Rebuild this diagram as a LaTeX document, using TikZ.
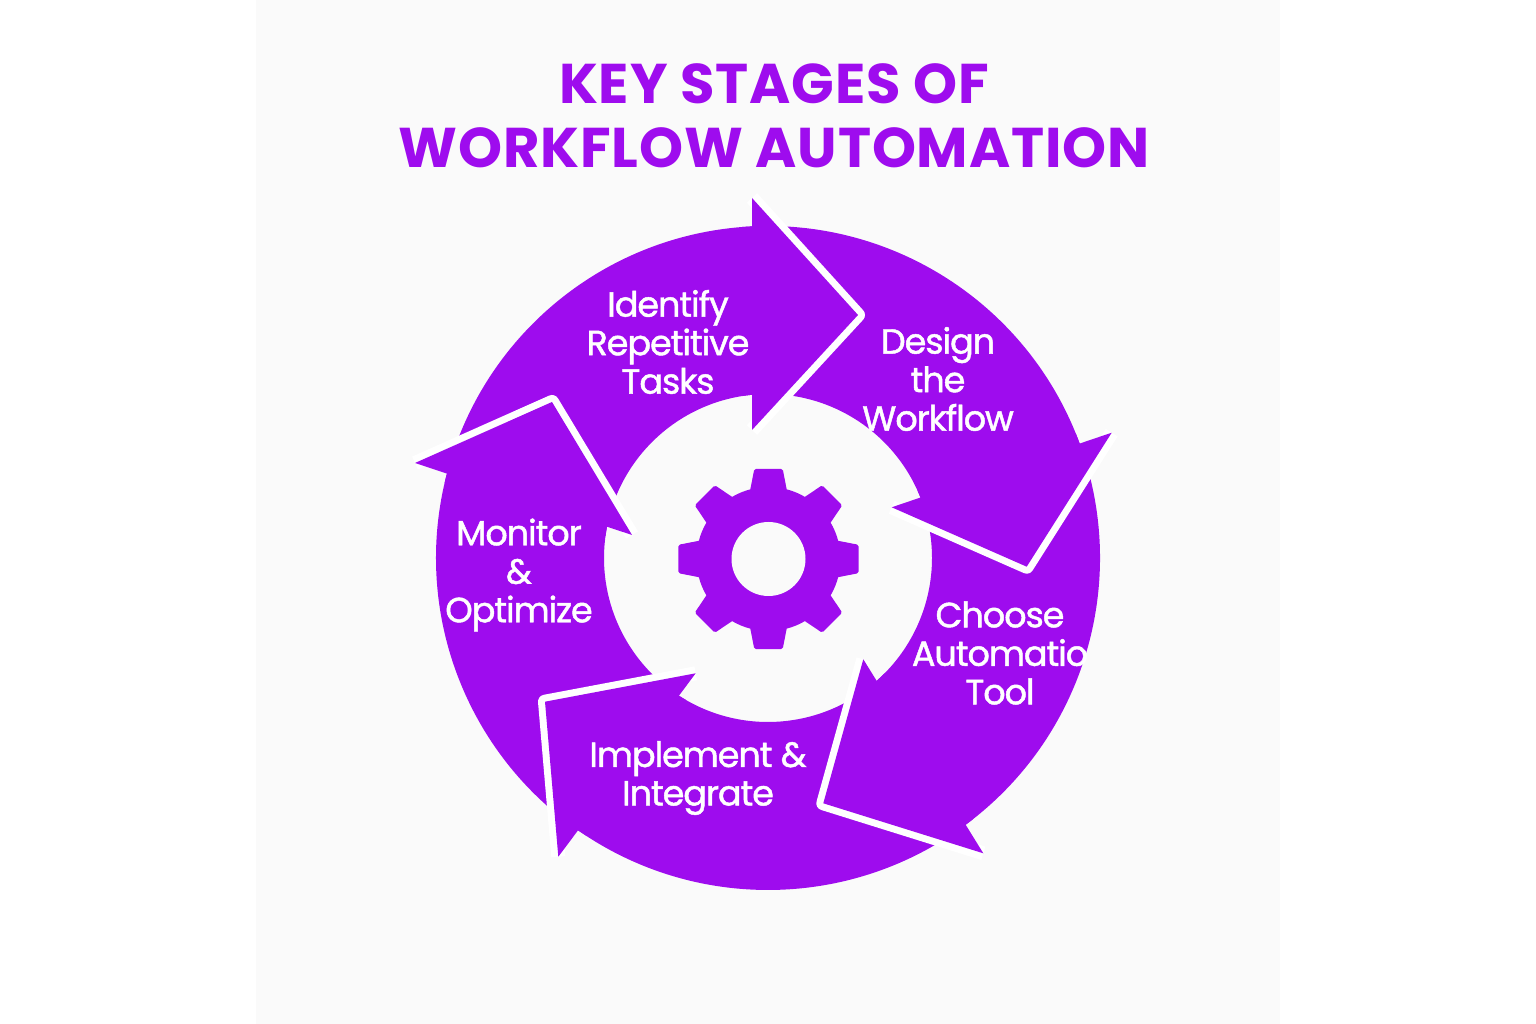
\documentclass[tikz,border=0pt]{standalone}
\usepackage{fontspec}
\setmainfont{Poppins}
\newfontfamily\lblfont{Poppins}[FakeBold=1.3, LetterSpace=-3]
\newfontfamily\ttlfont{Poppins}[LetterSpace=1.5]
\definecolor{vio}{RGB}{158,12,238}
\definecolor{bgpanel}{RGB}{250,250,250}
\tikzset{
  bodyfill/.style={fill=vio},
  headedge/.style={draw=white, line width=14pt, line join=round, line cap=butt},
  headfill/.style={fill=vio},
  lbl/.style={text=white, align=center, font=\lblfont\fontsize{35}{38.5}\selectfont, inner sep=0pt},
  ttl/.style={text=vio, align=center, font=\ttlfont\bfseries\fontsize{56}{64}\selectfont, inner sep=0pt}
}
\begin{document}
\begin{tikzpicture}[x=1pt,y=1pt]
\useasboundingbox (0,0) rectangle (1536,1024);
\fill[white] (0,0) rectangle (1536,1024);
\fill[bgpanel] (256,0) rectangle (1280,1024);

\node[ttl] (title) at (774,908) {KEY STAGES OF\\WORKFLOW AUTOMATION};

\begin{scope}[shift={(768,466)}]
  % arrow bodies (annular sectors)
  \fill[bodyfill] (166.94:332) arc[start angle=166.94, end angle=90.54, radius=332]
     -- (95.13:164) arc[start angle=95.13, end angle=172.4, radius=164] -- cycle;
  \fill[bodyfill] (94.54:332) arc[start angle=94.54, end angle=18.03, radius=332]
     -- (20.29:164) arc[start angle=20.29, end angle=99.13, radius=164] -- cycle;
  \fill[bodyfill] (22.03:332) arc[start angle=22.03, end angle=-55.9, radius=332]
     -- (-48.75:164) arc[start angle=-48.75, end angle=24.29, radius=164] -- cycle;
  \fill[bodyfill] (-51.9:332) arc[start angle=-51.9, end angle=-127.07, radius=332]
     -- (-124.09:164) arc[start angle=-124.09, end angle=-44.75, radius=164] -- cycle;
  \fill[bodyfill] (-123.07:332) arc[start angle=-123.07, end angle=-197.06, radius=332]
     -- (-191.6:164) arc[start angle=-191.6, end angle=-120.09, radius=164] -- cycle;

  % arrow heads
  \coordinate (o1) at (-16,360);   \coordinate (t1) at (90,243);     \coordinate (i1) at (-16,128);
  \coordinate (o2) at (343.7,125.3); \coordinate (t2) at (258.7,-8.7); \coordinate (i2) at (123.7,50.7);
  \coordinate (o3) at (215.3,-295.3); \coordinate (t3) at (55.3,-245.3); \coordinate (i3) at (95.3,-101.3);
  \coordinate (o4) at (-209.7,-298.7); \coordinate (t4) at (-223,-143.7); \coordinate (i4) at (-72.3,-115.3);
  \coordinate (o5) at (-353,95); \coordinate (t5) at (-216,156); \coordinate (i5) at (-136,23);
  \foreach \k in {1,...,5}{
    \draw[headedge] (o\k) -- (t\k) -- (i\k);
    \fill[headfill] (o\k) -- (t\k) -- (i\k) -- cycle;
  }

  % gear
  \begin{scope}[shift={(0.5,-1)}]
    \filldraw[fill=vio, draw=vio, line width=4pt, line join=round]
      (-13.6:70) foreach \a in {0,45,...,315} {
        -- (\a-8.1:89) -- (\a+8.1:89) -- (\a+13.6:70)
        arc[start angle=\a+13.6, end angle=\a+31.4, radius=70]
      } -- cycle;
    \fill[bgpanel] (0,0) circle (37);
  \end{scope}
\end{scope}

\node[lbl] (identify) at (668,682) {Identify\\Repetitive\\Tasks};
\node[lbl] (design) at (938,645) {Design\\the\\Workflow};
\node[lbl] (choose) at (1000,371) {Choose\\Automatio\\Tool};
\node[lbl] (implement) at (698,246) {Implement \&\\Integrate};
\node[lbl] (monitor) at (519,449) {Monitor\\\&\\Optimize};
\end{tikzpicture}
\end{document}
